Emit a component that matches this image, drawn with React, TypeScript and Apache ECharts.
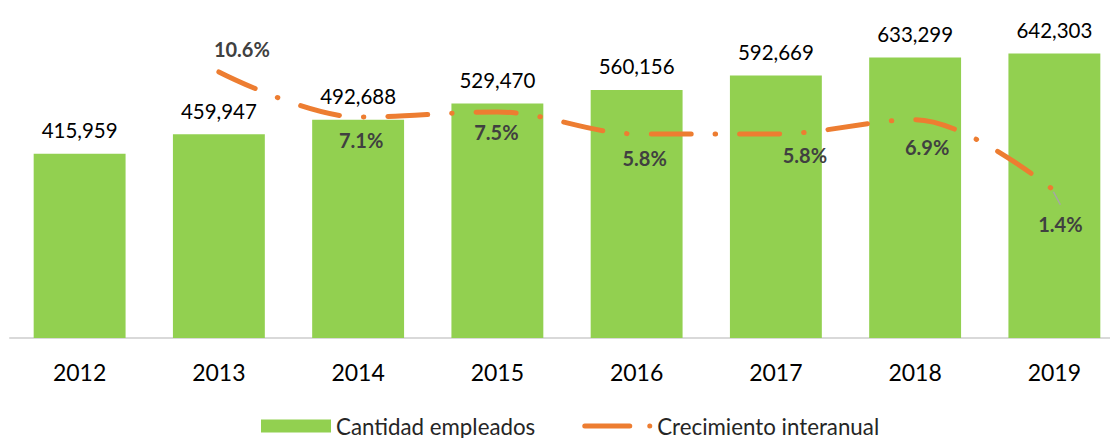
import React, { useEffect, useRef } from 'react';
import * as echarts from 'echarts';

const years = ['2012', '2013', '2014', '2015', '2016', '2017', '2018', '2019'];
const employees = [415959, 459947, 492688, 529470, 560156, 592669, 633299, 642303];
const growth: (number | null)[] = [null, 10.6, 7.1, 7.5, 5.8, 5.8, 6.9, 1.4];

// label placement (style only): offset of label centre from the point
const growthLabelOffsets: [number, number][] = [
  [0, 0], [23, -23], [3, 23], [-1, 20], [8, 24], [29, 21], [12, 27], [6, 33],
];

const FONT = 'Lato';
const LINE_ICON =
  'path://M2.5,0 L47.5,0 A2.5,2.5 0 0 1 47.5,5 L2.5,5 A2.5,2.5 0 0 1 2.5,0 Z M65,2.5 A2.5,2.5 0 1 0 70,2.5 A2.5,2.5 0 1 0 65,2.5 Z';

export default function App() {
  const ref = useRef<HTMLDivElement>(null);
  useEffect(() => {
    if (!ref.current) return;
    const chart = echarts.init(ref.current, null, { renderer: 'svg' });
    const lineData = growth.map((v, i) =>
      v === null
        ? '-'
        : {
            value: v,
            label: { offset: growthLabelOffsets[i] },
          }
    );
    chart.setOption({
      animation: false,
      textStyle: { fontFamily: FONT },
      grid: {
        left: 10,
        width: 1114,
        top: 28,
        height: 310,
        containLabel: false,
        outerBoundsMode: 'none',
      },
      legend: {
        left: 261,
        top: 415,
        padding: 0,
        itemWidth: 70,
        itemHeight: 13,
        itemGap: 47,
        symbolKeepAspect: true,
        textStyle: { fontSize: 22.3, color: '#262626', fontFamily: FONT },
        data: [
          { name: 'Cantidad empleados', icon: 'rect' },
          { name: 'Crecimiento interanual', icon: LINE_ICON },
        ],
      },
      xAxis: {
        type: 'category',
        data: years,
        axisLine: { lineStyle: { color: '#d9d9d9', width: 2 } },
        axisTick: { show: false },
        axisLabel: { fontSize: 23, color: '#000', margin: 22, fontFamily: FONT },
      },
      yAxis: [
        { type: 'value', min: 0, max: 700000, show: false, splitLine: { show: false } },
        { type: 'value', min: -10, max: 14, show: false, splitLine: { show: false } },
      ],
      series: [
        {
          name: 'Cantidad empleados',
          type: 'bar',
          data: employees,
          barWidth: '66%',
          itemStyle: { color: '#92D050' },
          label: {
            show: true,
            position: 'top',
            distance: 13,
            fontSize: 20.5,
            color: '#000',
            fontFamily: FONT,
            formatter: (p: any) => Number(p.value).toLocaleString('en-US'),
          },
        },
        {
          name: 'Crecimiento interanual',
          type: 'line',
          yAxisIndex: 1,
          data: lineData,
          smooth: 0.35,
          showSymbol: true,
          symbol: 'circle',
          symbolSize: 0.01,
          connectNulls: false,
          lineStyle: { color: '#ED7D31', width: 5, type: [40, 24, 0.5, 24], cap: 'round' },
          itemStyle: { color: '#ED7D31' },
          label: {
            show: true,
            position: 'inside',
            fontSize: 20,
            fontWeight: 'bold',
            color: '#404040',
            fontFamily: FONT,
            formatter: (p: any) => Number(p.value).toFixed(1) + '%',
          },
        },
      ],
    });
    const pt = chart.convertToPixel({ xAxisIndex: 0, yAxisIndex: 1 }, [years[7], growth[7] as number]) as number[];
    if (pt && isFinite(pt[0]) && isFinite(pt[1])) {
      chart.setOption({
        graphic: {
          elements: [
            {
              type: 'line',
              z: 100,
              shape: { x1: pt[0] - 1, y1: pt[1] + 1, x2: pt[0] + 6, y2: pt[1] + 14 },
              style: { stroke: '#a6a6a6', lineWidth: 1.5 },
            },
          ],
        },
      });
    }
    return () => chart.dispose();
  }, []);
  return (
    <div
      ref={ref}
      style={{ position: 'fixed', left: 0, top: 0, width: 1110, height: 438, background: '#fff' }}
    />
  );
}
